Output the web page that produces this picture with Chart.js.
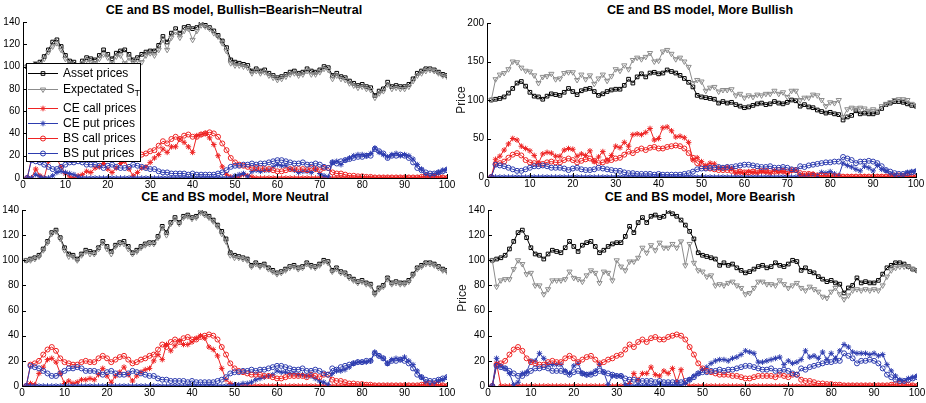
<!DOCTYPE html>
<html>
<head>
<meta charset="utf-8">
<script src="https://cdn.jsdelivr.net/npm/chart.js@4/dist/chart.umd.min.js"></script>
<style>
  body { margin: 0; width: 926px; height: 403px; overflow: hidden; background: #fff; position: relative;
         font-family: "Liberation Sans", Arial, sans-serif; }
  canvas { position: absolute; }
  .ttl { position: absolute; font-weight: bold; font-size: 12.5px; color: #000;
         transform: translate(-50%, -50%); white-space: nowrap; }
</style>
</head>
<body>
<div class="ttl" style="left:234px;top:10px">CE and BS model, Bullish=Bearish=Neutral</div>
<div class="ttl" style="left:700px;top:10px">CE and BS model, More Bullish</div>
<div class="ttl" style="left:235px;top:197px">CE and BS model, More Neutral</div>
<div class="ttl" style="left:700px;top:197px">CE and BS model, More Bearish</div>
<canvas id="c1"></canvas>
<canvas id="c2"></canvas>
<canvas id="c3"></canvas>
<canvas id="c4"></canvas>
<script>
// ---- data (one value per day, days 1..100) ----
const assetPrices = [
  100,101,102,104,109,115,122,124,118,110, 105,104,101,105,108,107,106,110,115,111,
  107,112,114,115,111,106,108,111,113,114, 114,119,127,122,130,134,130,135,136,134,
  135,139,137,135,132,128,123,117,106,104, 103,102,101,96,98,96,97,94,92,90,
  91,93,95,96,94,95,98,96,95,97, 100,99,92,94,91,90,87,85,83,84,
  82,81,74,78,80,86,82,83,82,82, 84,89,94,96,98,98,97,95,93,92
];
const bsCall = [
  0,17,18,20,25,29,31,28,22,19, 18,17,17,19,20,19,19,22,24,22,
  19,21,23,24,21,18,19,21,22,24, 25,29,33,31,35,37,35,38,39,37,
  37,39,40,41,40,37,31,25,18,14, 12,11,10,9,9,9,8,8,7,6,
  6,7,8,8,8,8,7,9,8,7, 9,9,5,4,4,3,2,2,1.5,1.5,
  1,1,0.5,0.5,0.5,0.5,0.5,0.5,0.5,0.5, 0.5,0.5,0.5,1,1.5,2,1.5,1,0.5,0
];
const bsPut = [
  0,16,15,14,12,10,8,8,10,12, 14,14,15,14,12,12,12,11,9,11,
  12,10,9,9,10,12,11,10,9,8, 8,6,5,5,4,4,4,4,3,4,
  3,3,3,3,3,4,5,7,10,11, 11,12,12,13,12,13,13,14,15,16,
  16,15,14,13,13,14,12,12,13,12, 10,9,14,13,15,16,17,18,19,19,
  20,20,26,24,22,18,20,20,21,20, 18,14,9,7,5,4,4,5,6,7
];

// Bullish = Bearish = Neutral
const expEqual = [
  100,98,103,102,107,113,118,121,115,107, 103,100,100,103,106,104,103,107,111,108,
  103,109,110,103,108,104,106,104,110,112, 110,115,124,115,126,131,126,132,134,124,
  132,137,136,134,130,127,121,114,103,101, 101,100,99,94,96,94,95,92,90,88,
  89,91,93,94,92,93,96,93,93,95, 98,97,89,92,89,88,85,83,81,82,
  80,79,72,76,78,84,80,81,80,80, 82,87,92,94,96,97,96,94,92,91
];
const ceCallEqual = [
  0,0,8,2,0,15,18,17,10,4, 1,0,2,3,6,5,9,10,13,8,
  5,9,13,15,8,2,5,9,10,14, 18,21,26,23,28,28,35,32,28,23,
  38,39,40,36,30,20,10,3,1,0, 1,3,2,1,0,0,0,0,0,0,
  0,0,0,0,0,0,0,0,0,0, 0,0,0,0,0,0,0,0,0,0,
  0,0,0,0,0,0,0,0,0,0, 0,0,0,0,0,0,0,0,0,0
];
const cePutEqual = [
  0,0,3,1,0,0,2,5,6,5, 4,3,1,0,0,0,0,0,0,0,
  0,0,0,0,0,0,0,0,0,0, 0,0,0,0,0,0,0,0,0,0,
  0,0,0,0,0,0,0,0,0,2, 3,4,1,6,7,6,7,7,10,12,
  11,11,8,7,5,6,6,5,8,4, 2,1,14,15,12,16,18,20,21,21,
  20,22,27,23,21,19,21,22,20,21, 20,17,12,8,3,2,3,5,7,8
];

// More Bullish
const expBullish = [
  100,127,133,135,140,150,149,142,138,137, 132,122,130,131,134,127,128,135,136,136,
  126,133,127,132,121,128,133,125,131,140, 138,145,140,152,155,153,156,161,150,151,
  163,165,160,153,155,150,143,122,126,124, 112,116,117,111,113,113,114,106,108,103,
  106,104,107,106,108,108,112,108,110,104, 112,112,100,103,103,107,106,100,92,97,
  96,100,78,88,90,89,90,89,86,88, 86,92,95,97,100,101,101,100,95,93
];
const ceCallBullish = [
  0,23,27,35,43,50,48,40,37,34, 28,18,30,32,31,27,27,35,37,36,
  27,30,28,34,20,26,33,22,28,40, 38,45,40,55,56,55,58,63,48,50,
  64,65,60,52,53,51,45,22,25,20, 15,18,17,12,12,13,11,5,6,5,
  7,6,5,7,6,5,8,6,7,4, 8,9,1,2,3,4,1,0,0,0,
  0,0,0,0,0,0,0,0,0,0, 0,0,0,0,0,0,0,0,0,0
];
const cePutBullish = [
  0,0,0,0,0,0,0,0,0,0, 0,0,0,0,0,0,0,0,0,0,
  0,0,0,0,0,0,0,0,0,0, 0,0,0,0,0,0,0,0,0,0,
  0,0,0,0,0,0,0,0,0,0, 0,0,0,0,0,0,0,0,0,0,
  0,0,0,0,0,0,0,0,0,0, 0,0,3,1,2,3,2,6,5,7,
  4,2,18,15,13,10,8,14,12,8, 15,10,8,4,2,1,2,6,7,8
];

// More Neutral
const expNeutral = [
  100,100,101,103,108,114,121,123,117,108, 103,103,100,104,107,105,105,109,114,109,
  105,111,113,113,109,105,107,110,112,113, 113,118,126,120,129,133,129,134,135,133,
  134,138,136,134,131,127,121,115,104,102, 102,101,100,95,97,95,96,93,91,89,
  90,92,94,95,93,94,97,95,94,96, 99,98,91,93,90,89,86,84,82,83,
  81,80,73,77,79,85,81,82,81,81, 83,88,93,95,97,97,96,94,92,91
];
const ceCallNeutral = [
  0,2,1,10,15,21,22,19,10,2, 4,2,3,5,5,6,5,9,14,8,
  3,8,11,15,9,4,8,11,13,14, 20,25,21,33,28,32,36,33,33,35,
  38,40,38,31,29,24,14,5,2,1, 0,0,0,0,0,0,0,0,0,0,
  0,0,0,0,0,0,0,0,0,0, 0,0,0,0,0,0,0,0,0,0,
  0,0,0,0,0,0,0,0,0,0, 0,0,0,0,0,0,0,0,0,0
];
const cePutNeutral = [
  0,0,0,0,0,0,0,0,0,0, 0,0,0,0,0,0,0,0,0,0,
  0,0,0,0,0,0,0,0,0,0, 0,0,0,0,0,0,0,0,0,0,
  0,0,0,0,0,0,0,0,0,1, 1,2,2,3,5,6,7,8,9,12,
  11,11,10,10,9,9,8,8,6,4, 3,1,10,12,12,13,15,18,19,19,
  19,20,27,24,22,18,21,22,21,23, 20,17,12,7,3,1,2,4,5,7
];

// More Bearish
const expBearish = [
  100,79,84,85,85,93,100,97,89,90, 80,80,73,77,84,84,84,85,91,86,
  85,83,88,92,90,82,91,90,84,100, 95,92,99,99,102,110,106,112,108,114,
  110,110,113,110,115,96,113,98,92,91, 87,88,80,81,80,82,83,80,78,73,
  74,78,83,83,81,81,80,84,81,78, 80,82,78,76,79,77,75,71,70,75,
  78,73,69,72,76,77,76,77,76,77, 76,80,87,92,94,95,95,95,93,92
];
const ceCallBearish = [
  0,18,0,0,0,0,0,0,0,0, 0,0,0,0,0,0,0,0,0,0,
  0,0,0,0,0,0,0,0,0,0, 0,0,2,10,5,10,10,15,9,8,
  12,10,14,3,13,2,0,0,0,0, 0,0,0,0,0,0,0,0,0,0,
  0,0,0,0,0,0,0,0,0,0, 0,0,0,0,0,0,0,0,0,0,
  0,0,0,0,0,0,0,0,0,0, 0,0,0,0,0,0,0,0,0,0
];
const cePutBearish = [
  0,22,16,14,10,1,3,10,11,20, 20,26,22,17,17,17,17,12,10,16,
  18,10,9,10,12,17,11,1,8,8, 8,1,0,0,1,0,1,0,0,2,
  0,1,0,1,0,2,5,8,10,13, 15,18,20,21,21,20,22,23,25,28,
  27,26,19,19,20,21,22,23,17,20, 18,19,21,28,23,24,22,27,21,26,
  22,28,33,31,27,26,26,26,25,26, 24,25,17,12,8,5,4,6,7,8
];

const RED = 'rgb(238,35,35)';
const BLUE = 'rgb(45,60,175)';
const GREY = 'rgb(140,140,140)';
const FONT = '"Liberation Sans", Arial, sans-serif';

// marker / line look of each series, in plotting order
const looks = [
  { label: 'Asset prices',   color: '#000', point: 'rect',     r: 2.6, rot: 0 },
  { label: 'Expectated S',   color: GREY,   point: 'triangle', r: 3,   rot: 180 },
  { label: 'CE call prices', color: RED,    point: 'star',     r: 2.8, rot: 0 },
  { label: 'CE put prices',  color: BLUE,   point: 'star',     r: 2.8, rot: 0 },
  { label: 'BS call prices', color: RED,    point: 'circle',   r: 2.5, rot: 0 },
  { label: 'BS put prices',  color: BLUE,   point: 'circle',   r: 2.5, rot: 0 }
];

// matlab style ticks pointing into the plot
const inwardTicks = {
  id: 'inwardTicks',
  afterDatasetsDraw(chart) {
    const { ctx, chartArea: a, scales: { x, y } } = chart;
    ctx.save();
    ctx.strokeStyle = '#000';
    ctx.lineWidth = 1;
    ctx.beginPath();
    x.ticks.forEach(t => {
      const px = Math.round(x.getPixelForValue(t.value)) + 0.5;
      ctx.moveTo(px, a.bottom);
      ctx.lineTo(px, a.bottom - 4);
    });
    y.ticks.forEach(t => {
      const py = Math.round(y.getPixelForValue(t.value)) + 0.5;
      ctx.moveTo(a.left, py);
      ctx.lineTo(a.left + 4, py);
    });
    ctx.stroke();
    ctx.restore();
  }
};

// legend box inside the first plot
const boxLegend = {
  id: 'boxLegend',
  afterDraw(chart) {
    const { ctx, chartArea: a } = chart;
    const bx = a.left + 3, by = a.top + 41;
    const rows = [51, 67, 86, 101, 116, 131];
    ctx.save();
    ctx.fillStyle = '#fff';
    ctx.fillRect(bx, by, 114, 98);
    ctx.strokeStyle = '#000';
    ctx.lineWidth = 1;
    ctx.strokeRect(bx + 0.5, by + 0.5, 114, 98);
    looks.forEach((lk, i) => {
      const yy = a.top + rows[i] + 0.5;
      ctx.strokeStyle = lk.color;
      ctx.beginPath();
      ctx.moveTo(a.left + 5, yy);
      ctx.lineTo(a.left + 35, yy);
      ctx.stroke();
      if (Chart.helpers && Chart.helpers.drawPoint) {
        ctx.fillStyle = 'rgba(0,0,0,0)';
        Chart.helpers.drawPoint(ctx, { pointStyle: lk.point, radius: lk.r, rotation: lk.rot, borderWidth: 1 },
          a.left + 20, yy);
      }
      ctx.fillStyle = '#000';
      ctx.font = '12px ' + FONT;
      ctx.textBaseline = 'middle';
      ctx.fillText(lk.label, a.left + 40, yy);
      if (i === 1) {
        const w = ctx.measureText(lk.label).width;
        ctx.font = '9px ' + FONT;
        ctx.fillText('T', a.left + 40 + w, yy + 4);
      }
    });
    ctx.restore();
  }
};

const AXIS_W = 40;

function makePanel(id, box, yMax, yStep, withTitle, values, extra) {
  const cv = document.getElementById(id);
  cv.width = box.r - box.l + AXIS_W + 16;
  cv.height = box.b - box.t + 22 + 17;
  cv.style.left = (box.l - AXIS_W) + 'px';
  cv.style.top = (box.t - 22) + 'px';
  const yW = withTitle ? 36 : 30;

  const datasets = values.map((vals, k) => {
    const lk = looks[k];
    return {
      label: lk.label,
      data: vals.map((v, i) => ({ x: i + 1, y: v })),
      borderColor: lk.color,
      borderWidth: 1,
      pointStyle: lk.point,
      pointRadius: lk.r,
      pointRotation: lk.rot,
      pointBorderColor: lk.color,
      pointBackgroundColor: 'rgba(0,0,0,0)',
      pointBorderWidth: 1,
      tension: 0,
      order: values.length - k
    };
  });

  return new Chart(cv, {
    type: 'line',
    data: { datasets },
    options: {
      responsive: false,
      animation: false,
      events: [],
      layout: { padding: { left: AXIS_W - yW, top: 22, right: 16, bottom: 0 } },
      plugins: { legend: { display: false }, tooltip: { enabled: false } },
      scales: {
        x: {
          type: 'linear', min: 0, max: 100,
          afterFit: s => { s.height = 17; },
          ticks: { stepSize: 10, color: '#000', padding: 1, maxRotation: 0, font: { family: FONT, size: 10 } },
          grid: { display: true, drawOnChartArea: false, drawTicks: false },
          border: { display: true, color: '#000', width: 1 }
        },
        y: {
          min: 0, max: yMax,
          afterFit: s => { s.width = yW; },
          ticks: { stepSize: yStep, color: '#000', padding: 3, font: { family: FONT, size: 10 } },
          grid: { display: true, drawOnChartArea: false, drawTicks: false },
          border: { display: true, color: '#000', width: 1 },
          title: { display: withTitle, text: 'Price', color: '#222', padding: { top: 3, bottom: 0 },
                   font: { family: FONT, size: 12 } }
        }
      }
    },
    plugins: extra ? [inwardTicks, extra] : [inwardTicks]
  });
}

makePanel('c1', { l: 23, r: 447, t: 22, b: 178 }, 140, 20, false,
  [assetPrices, expEqual, ceCallEqual, cePutEqual, bsCall, bsPut], boxLegend);
makePanel('c2', { l: 487, r: 916, t: 23, b: 177 }, 200, 50, true,
  [assetPrices, expBullish, ceCallBullish, cePutBullish, bsCall, bsPut]);
makePanel('c3', { l: 22, r: 447, t: 210, b: 386 }, 140, 20, false,
  [assetPrices, expNeutral, ceCallNeutral, cePutNeutral, bsCall, bsPut]);
makePanel('c4', { l: 488, r: 917, t: 210, b: 386 }, 140, 20, true,
  [assetPrices, expBearish, ceCallBearish, cePutBearish, bsCall, bsPut]);
</script>
</body>
</html>
